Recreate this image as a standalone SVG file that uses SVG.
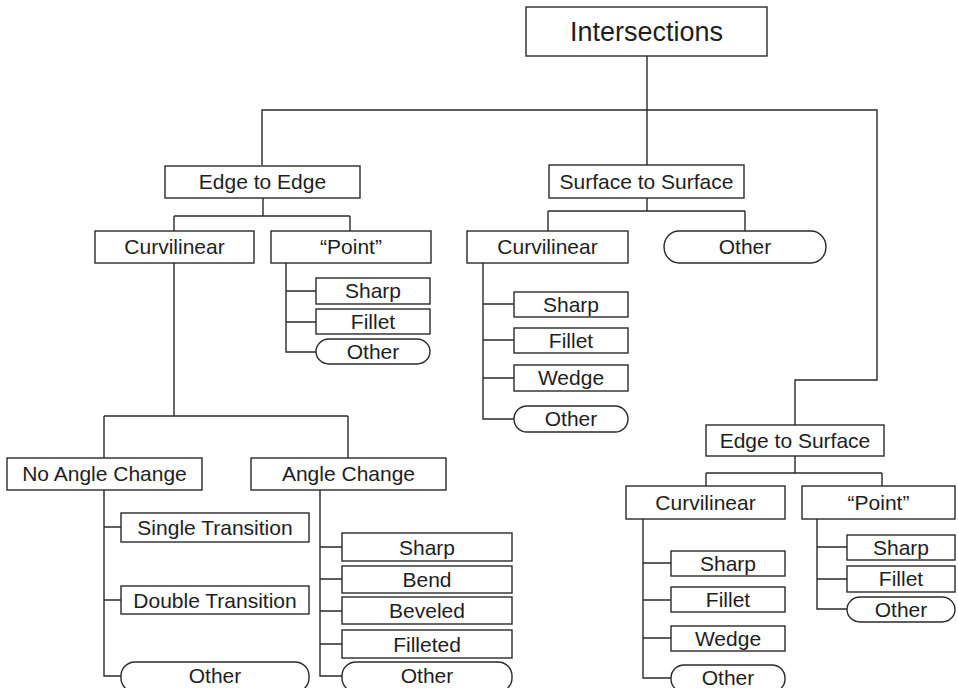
<svg xmlns="http://www.w3.org/2000/svg" width="958" height="688" viewBox="0 0 958 688">
  <style>
    .box { fill: #fff; stroke: #2a2a2a; stroke-width: 1.4; }
    .wire { fill: none; stroke: #2a2a2a; stroke-width: 1.4; }
    text { font-family: "Liberation Sans", Arial, sans-serif; font-size: 21px; fill: #1e1e1e; text-anchor: middle; }
    .big { font-size: 27px; }
  </style>
  <rect width="958" height="688" fill="#fff"/>

  <!-- tree connectors -->
  <g id="connectors" class="wire">
    <path d="M647,56 V165 M262,165 V110 H877 V380 H795 V425"/>
    <!-- Edge to Edge -->
    <path d="M263,198 V216 M174,216 H350 M174,216 V231 M350,216 V231"/>
    <path d="M286,263 V352 H316 M286,291 H316 M286,322 H316"/>
    <path d="M174,263 V416 M104,416 H348 M104,416 V458 M348,416 V458"/>
    <path d="M104,490 V676 H121 M104,527 H121 M104,600 H121"/>
    <path d="M320,490 V676 H342 M320,547 H342 M320,579 H342 M320,611 H342 M320,644 H342"/>
    <!-- Surface to Surface -->
    <path d="M647,198 V211 M548,211 H745 M548,211 V231 M745,211 V231"/>
    <path d="M483,263 V419 H514 M483,304 H514 M483,340 H514 M483,378 H514"/>
    <!-- Edge to Surface -->
    <path d="M795,456 V473 M706,473 H882 M706,473 V486 M882,473 V486"/>
    <path d="M643,519 V678 H671 M643,563 H671 M643,600 H671 M643,638 H671"/>
    <path d="M817,519 V609 H847 M817,547 H847 M817,579 H847"/>
  </g>

  <g id="root"><rect class="box" x="526" y="7" width="241" height="49"/><text class="big" x="646.5" y="41">Intersections</text></g>

  <g id="edge-to-edge"><rect class="box" x="165" y="166" width="195" height="32"/><text x="262.5" y="189">Edge to Edge</text></g>
  <g id="surface-to-surface"><rect class="box" x="549" y="165" width="195" height="33"/><text x="646.5" y="189">Surface to Surface</text></g>
  <g id="edge-to-surface"><rect class="box" x="706" y="425" width="178" height="31"/><text x="795" y="448">Edge to Surface</text></g>

  <!-- Edge to Edge branch -->
  <g id="ee-curvilinear"><rect class="box" x="95" y="231" width="159" height="32"/><text x="174.5" y="254">Curvilinear</text></g>
  <g id="ee-point"><rect class="box" x="271" y="231" width="160" height="32"/><text x="351" y="254">“Point”</text></g>
  <g id="ee-point-sharp"><rect class="box" x="316" y="278" width="114" height="26"/><text x="373" y="298">Sharp</text></g>
  <g id="ee-point-fillet"><rect class="box" x="316" y="309" width="114" height="25"/><text x="373" y="329">Fillet</text></g>
  <g id="ee-point-other"><rect class="box" x="316" y="339" width="114" height="25" rx="13" ry="12.5"/><text x="373" y="359">Other</text></g>

  <g id="no-angle-change"><rect class="box" x="7" y="458" width="195" height="32"/><text x="104.5" y="481">No Angle Change</text></g>
  <g id="angle-change"><rect class="box" x="251" y="458" width="195" height="32"/><text x="348.5" y="481">Angle Change</text></g>
  <g id="single-transition"><rect class="box" x="121" y="513" width="188" height="29"/><text x="215" y="535">Single Transition</text></g>
  <g id="double-transition"><rect class="box" x="121" y="586" width="188" height="28"/><text x="215" y="607.5">Double Transition</text></g>
  <g id="nac-other"><rect class="box" x="121" y="662" width="188" height="30" rx="14" ry="14"/><text x="215" y="683">Other</text></g>
  <g id="ac-sharp"><rect class="box" x="342" y="533" width="170" height="28"/><text x="427" y="554.5">Sharp</text></g>
  <g id="ac-bend"><rect class="box" x="342" y="566" width="170" height="27"/><text x="427" y="587">Bend</text></g>
  <g id="ac-beveled"><rect class="box" x="342" y="597" width="170" height="27"/><text x="427" y="618">Beveled</text></g>
  <g id="ac-filleted"><rect class="box" x="342" y="630" width="170" height="28"/><text x="427" y="651.5">Filleted</text></g>
  <g id="ac-other"><rect class="box" x="342" y="662" width="170" height="30" rx="14" ry="14"/><text x="427" y="683">Other</text></g>

  <!-- Surface to Surface branch -->
  <g id="ss-curvilinear"><rect class="box" x="467" y="231" width="161" height="32"/><text x="547.5" y="254">Curvilinear</text></g>
  <g id="ss-other"><rect class="box" x="664" y="231" width="162" height="32" rx="15" ry="16"/><text x="745" y="254">Other</text></g>
  <g id="ss-sharp"><rect class="box" x="514" y="292" width="114" height="25"/><text x="571" y="312">Sharp</text></g>
  <g id="ss-fillet"><rect class="box" x="514" y="328" width="114" height="25"/><text x="571" y="348">Fillet</text></g>
  <g id="ss-wedge"><rect class="box" x="514" y="365" width="114" height="26"/><text x="571" y="385">Wedge</text></g>
  <g id="ss-other-2"><rect class="box" x="514" y="406" width="114" height="26" rx="13" ry="13"/><text x="571" y="426">Other</text></g>

  <!-- Edge to Surface branch -->
  <g id="es-curvilinear"><rect class="box" x="626" y="486" width="159" height="33"/><text x="705.5" y="510">Curvilinear</text></g>
  <g id="es-point"><rect class="box" x="802" y="486" width="153" height="33"/><text x="878.5" y="510">“Point”</text></g>
  <g id="es-sharp"><rect class="box" x="671" y="551" width="114" height="25"/><text x="728" y="571">Sharp</text></g>
  <g id="es-fillet"><rect class="box" x="671" y="587" width="114" height="25"/><text x="728" y="607">Fillet</text></g>
  <g id="es-wedge"><rect class="box" x="671" y="626" width="114" height="25"/><text x="728" y="646">Wedge</text></g>
  <g id="es-other"><rect class="box" x="671" y="665" width="114" height="27" rx="13" ry="13"/><text x="728" y="685">Other</text></g>
  <g id="es-point-sharp"><rect class="box" x="847" y="535" width="108" height="25"/><text x="901" y="555">Sharp</text></g>
  <g id="es-point-fillet"><rect class="box" x="847" y="566" width="108" height="26"/><text x="901" y="586">Fillet</text></g>
  <g id="es-point-other"><rect class="box" x="847" y="597" width="108" height="25" rx="13" ry="12.5"/><text x="901" y="617">Other</text></g>
</svg>
